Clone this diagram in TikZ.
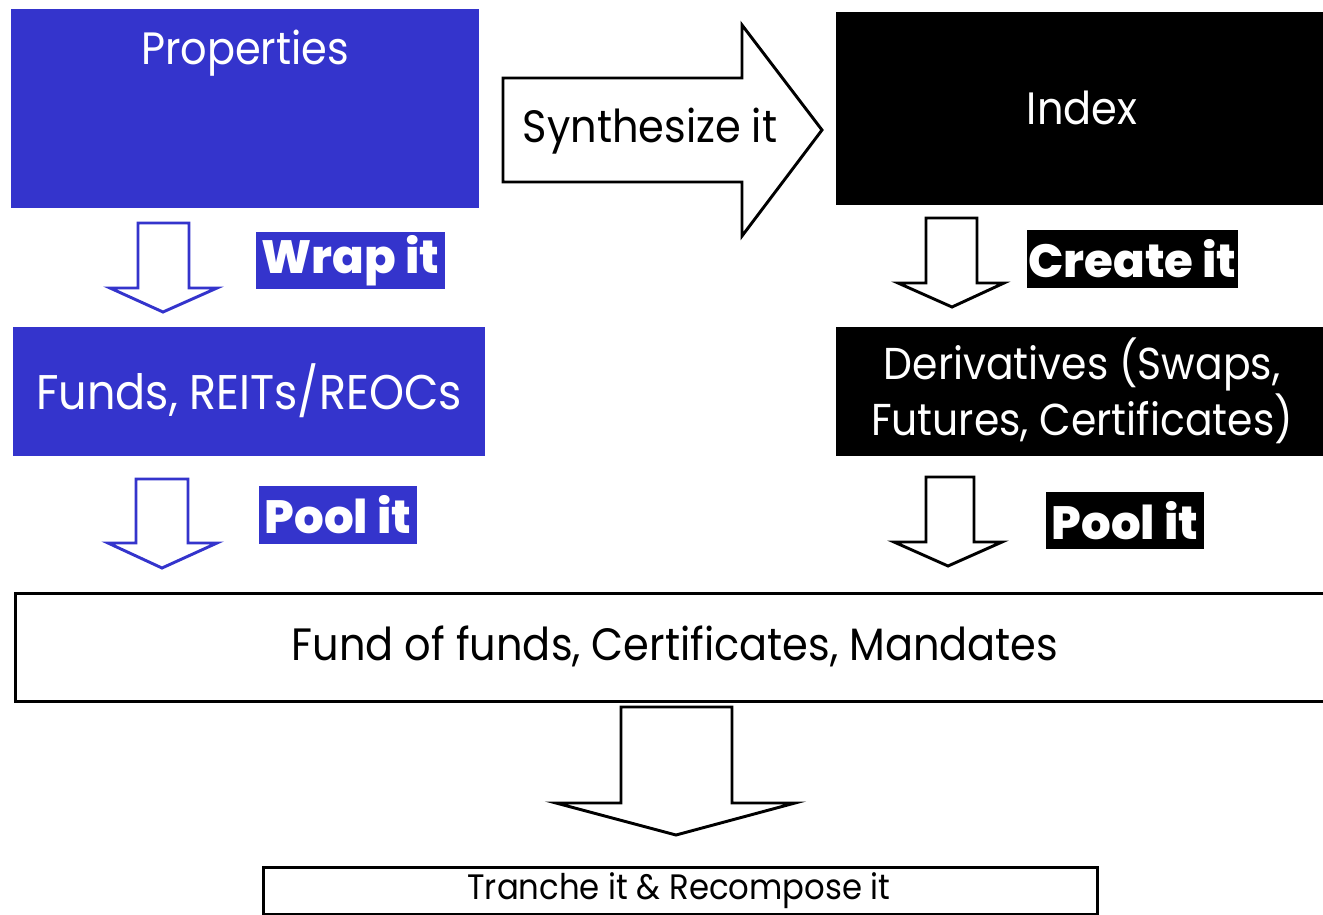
\documentclass[tikz,border=0pt]{standalone}
\usepackage{fontspec}
\setmainfont{Poppins}[FakeStretch=0.915]
\IfFontExistsTF{Poppins ExtraBold}
  {\newfontfamily\heavyfont{Poppins ExtraBold}}
  {\newfontfamily\heavyfont{Poppins}[UprightFont=* Bold]}
\definecolor{royal}{RGB}{52,52,204}
\tikzset{
  bluebox/.style={fill=royal, draw=none, anchor=north west, inner sep=0pt},
  blackbox/.style={fill=black, draw=none, anchor=north west, inner sep=0pt},
  whitebox/.style={fill=white, draw=black, line width=2.4pt, anchor=north west, inner sep=0pt},
  boxtext/.style={text=white, font=\fontsize{34}{42}\selectfont, inner sep=0pt, align=center},
  darktext/.style={text=black, font=\fontsize{34}{42}\selectfont, inner sep=0pt},
  tag/.style={text=white, font=\heavyfont\fontsize{35}{40}\selectfont, inner sep=0pt},
  blueblock/.style={draw=royal, fill=white, line width=2.2pt, line join=miter},
  blackblock/.style={draw=black, fill=white, line width=2.2pt, line join=miter},
}
\begin{document}
\begin{tikzpicture}[x=0.75pt,y=-0.75pt]
\useasboundingbox (0,0) rectangle (1323,914);

% top row
\node[bluebox, minimum width=468*0.75pt, minimum height=199*0.75pt] (props) at (11,9) {};
\node[boxtext] (propstxt) at (245,53) {Properties};
\node[blackbox, minimum width=490*0.75pt, minimum height=193*0.75pt] (index) at (836,12) {};
\node[boxtext] (indextxt) at (1082,108) {Index};

% synthesize arrow
\draw[blackblock] (503,78) -- (742,78) -- (742,25) -- (822,130) -- (742,236) -- (742,182) -- (503,182) -- cycle;
\node[darktext] (synth) at (650,131) {Synthesize it};

% left column
\draw[blueblock] (138,223) -- (189,223) -- (189,288) -- (217,288) -- (163,312) -- (110,288) -- (138,288) -- cycle;
\node[tag, fill=royal, minimum width=189*0.75pt, minimum height=57*0.75pt] (wrap) at (350.5,260.5) {Wrap it};
\node[bluebox, minimum width=472*0.75pt, minimum height=129*0.75pt] (funds) at (13,327) {};
\node[boxtext, font=\fontsize{36.5}{42}\selectfont] (fundstxt) at (249,391) {Funds, REITs/REOCs};
\draw[blueblock] (136,479) -- (188,479) -- (188,543) -- (217,543) -- (162,568) -- (108,543) -- (136,543) -- cycle;
\node[tag, fill=royal, minimum width=158*0.75pt, minimum height=58*0.75pt] (poolL) at (338,515) {Pool it};

% right column
\draw[blackblock] (926,218) -- (977,218) -- (977,283) -- (1004,283) -- (952,307) -- (898,283) -- (926,283) -- cycle;
\node[tag, fill=black, minimum width=211*0.75pt, minimum height=58*0.75pt] (create) at (1132.5,259) {Create it};
\node[blackbox, minimum width=490*0.75pt, minimum height=129*0.75pt] (deriv) at (836,327) {};
\node[boxtext, font=\fontsize{33.5}{42}\selectfont] (derivtxt) at (1082,391) {Derivatives (Swaps,\\Futures, Certificates)};
\draw[blackblock] (926,477) -- (974,477) -- (974,542) -- (1002,542) -- (948,566) -- (894,542) -- (926,542) -- cycle;
\node[tag, fill=black, minimum width=158*0.75pt, minimum height=57*0.75pt] (poolR) at (1125,520.5) {Pool it};

% bottom
\node[whitebox, minimum width=1320*0.75pt, minimum height=108*0.75pt] (fof) at (14,592) {};
\node[darktext] (foftxt) at (675,646) {Fund of funds, Certificates, Mandates};
\draw[blackblock] (621,707) -- (732,707) -- (732,803) -- (795,803) -- (676,835) -- (556,803) -- (621,803) -- cycle;
\node[whitebox, minimum width=834*0.75pt, minimum height=47*0.75pt] (tranche) at (262,866) {};
\node[darktext, font=\fontsize{26.5}{30}\selectfont] (tranchetxt) at (679,891) {Tranche it \& Recompose it};
\end{tikzpicture}
\end{document}
